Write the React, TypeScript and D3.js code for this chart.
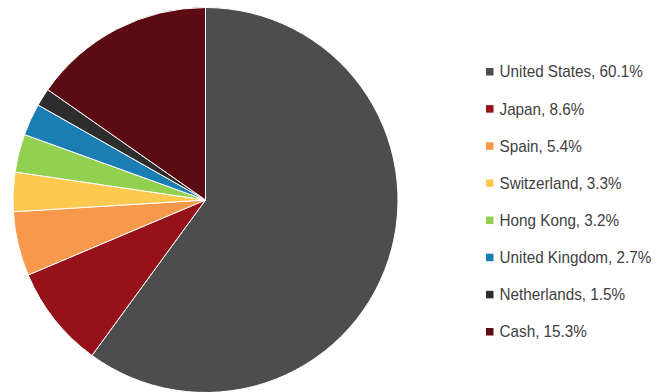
import React from "react";
import * as d3 from "d3";

const categories = ["United States", "Japan", "Spain", "Switzerland", "Hong Kong", "United Kingdom", "Netherlands", "Cash"];
const values = [60.1, 8.6, 5.4, 3.3, 3.2, 2.7, 1.5, 15.3];
const colors = ["#4d4d4d", "#97111b", "#f7984a", "#fec94e", "#92d050", "#1a7db4", "#2d2d2d", "#5c0b12"];

const W = 667;
const H = 392;
const cx = 205.5;
const cy = 200;
const R = 192.5;

export default function App() {
  const pie = d3.pie<number>().sort(null).value((d) => d);
  const arcs = pie(values);
  const arc = d3.arc<d3.PieArcDatum<number>>().innerRadius(0).outerRadius(R);
  const legendY = d3.scalePoint<number>().domain(d3.range(categories.length)).range([71.5, 331.5]);

  return (
    <svg width={W} height={H} style={{ position: "absolute", left: 0, top: 0, display: "block" }}>
      <g transform={`translate(${cx},${cy})`}>
        {arcs.map((a, i) => (
          <path key={i} d={arc(a) || ""} fill={colors[i]} stroke="#ffffff" strokeWidth={1} strokeLinejoin="round" />
        ))}
      </g>
      <g>
        {categories.map((c, i) => (
          <g key={c} transform={`translate(486,${legendY(i)})`}>
            <rect x={0} y={-3.5} width={7.5} height={7.5} fill={colors[i]} />
            <g transform="translate(13.5,0) scale(0.955,1)">
              <text
                x={0}
                y={0}
                dy="0.37em"
                fontFamily="'Liberation Sans', Arial, sans-serif"
                fontSize={16}
                fill="#404040"
              >
                {`${c}, ${values[i].toFixed(1)}%`}
              </text>
            </g>
          </g>
        ))}
      </g>
    </svg>
  );
}
